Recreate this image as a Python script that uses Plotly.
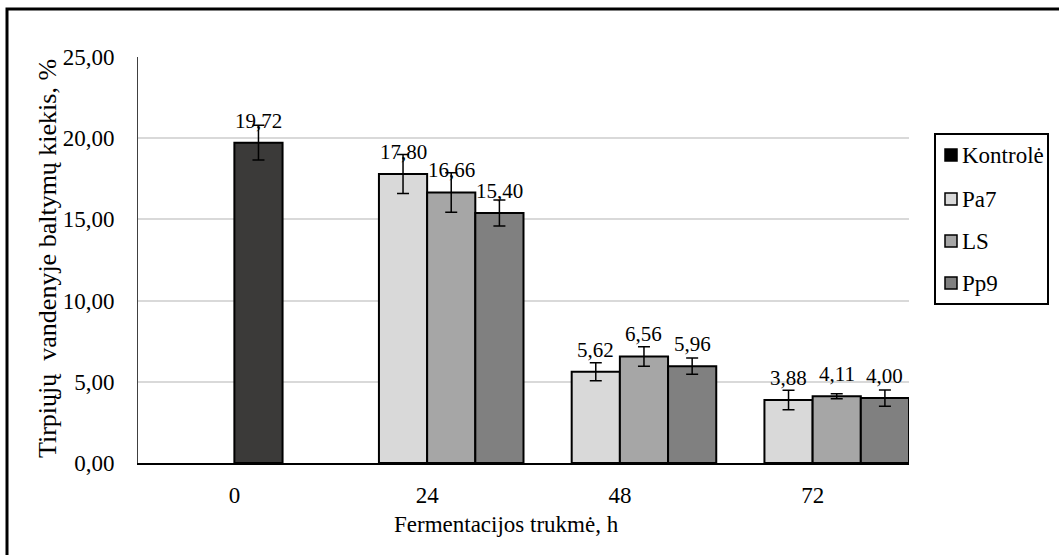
import plotly.graph_objects as go

# Fermentation time groups (h)
hours = ["0", "24", "48", "72"]

# Series names and fills
series_names = ["Kontrolė", "Pa7", "LS", "Pp9"]
series_colors = ["#3b3a39", "#d9d9d9", "#a6a6a6", "#808080"]

# Water-soluble protein content, %
kontrole = [19.72, None, None, None]
pa7 = [None, 17.80, 5.62, 3.88]
ls = [None, 16.66, 6.56, 4.11]
pp9 = [None, 15.40, 5.96, 4.00]

# Standard deviations
kontrole_err = [1.07, None, None, None]
pa7_err = [None, 1.20, 0.55, 0.60]
ls_err = [None, 1.22, 0.60, 0.15]
pp9_err = [None, 0.80, 0.50, 0.50]

# Position of each series inside a group (in category units)
bar_width = 0.25
bar_offsets = [0.0, -0.25, 0.0, 0.25]

values = [kontrole, pa7, ls, pp9]
errors = [kontrole_err, pa7_err, ls_err, pp9_err]

FONT = "Liberation Serif"

# plot area in pixels
W, H = 1059, 555
L, R, T, B = 138, 909, 57, 463


def px_x(p):
    return (p - L) / (R - L)


def px_y(p):
    return (B - p) / (B - T)


fig = go.Figure()

for name, color, vals, errs, off in zip(series_names, series_colors, values, errors, bar_offsets):
    fig.add_trace(go.Bar(
        x=hours,
        y=vals,
        name=name,
        width=bar_width,
        offset=off,
        marker=dict(color=color, line=dict(color="black", width=2)),
        error_y=dict(type="data", array=errs, visible=True,
                     color="black", thickness=1.5, width=6),
        showlegend=False,
    ))

annotations = []

# value labels above each bar
for vals, off in zip(values, bar_offsets):
    for i, v in enumerate(vals):
        if v is None:
            continue
        annotations.append(dict(
            x=i + off + bar_width / 2, y=v, xref="x", yref="y",
            text=f"{v:.2f}".replace(".", ","),
            showarrow=False, yanchor="middle", yshift=22,
            font=dict(family=FONT, size=21, color="black"),
        ))

# axis titles
annotations.append(dict(
    x=px_x(506), y=px_y(524), xref="paper", yref="paper",
    text="Fermentacijos trukmė, h", showarrow=False,
    xanchor="center", yanchor="middle",
    font=dict(family=FONT, size=23, color="black"),
))
annotations.append(dict(
    x=px_x(47), y=px_y(259), xref="paper", yref="paper",
    text="Tirpiųjų\u00a0 vandenyje baltymų kiekis, %", showarrow=False,
    textangle=-90, xanchor="center", yanchor="middle",
    font=dict(family=FONT, size=26, color="black"),
))

shapes = []

# outer chart frame
shapes.append(dict(
    type="rect", xref="paper", yref="paper",
    x0=px_x(7), x1=px_x(1075), y0=px_y(9), y1=px_y(575),
    line=dict(color="black", width=3), fillcolor="rgba(0,0,0,0)", layer="above",
))

# legend box and entries
leg_left, leg_right, leg_top, leg_bottom = 935, 1048, 134, 304
leg_rows = [155, 199, 241, 283]
shapes.append(dict(
    type="rect", xref="paper", yref="paper",
    x0=px_x(leg_left), x1=px_x(leg_right), y0=px_y(leg_top), y1=px_y(leg_bottom),
    line=dict(color="black", width=2), fillcolor="white", layer="above",
))
for name, color, yc in zip(series_names, series_colors, leg_rows):
    is_control = name == series_names[0]
    shapes.append(dict(
        type="rect", xref="paper", yref="paper",
        x0=px_x(945), x1=px_x(957), y0=px_y(yc - 6), y1=px_y(yc + 6),
        line=dict(color="black", width=1.5),
        fillcolor="black" if is_control else color, layer="above",
    ))
    annotations.append(dict(
        x=px_x(960), y=px_y(yc), xref="paper", yref="paper",
        text=name, showarrow=False, xanchor="left", yanchor="middle",
        font=dict(family=FONT, size=23, color="black"),
    ))

fig.update_layout(
    width=W, height=H,
    margin=dict(l=L, r=W - R, t=T, b=H - B, pad=0),
    paper_bgcolor="white", plot_bgcolor="white",
    barmode="overlay",
    separators=", ",
    font=dict(family=FONT, size=23, color="black"),
    annotations=annotations,
    shapes=shapes,
    showlegend=False,
)

fig.update_xaxes(
    type="category", range=[-0.5, 3.5],
    showline=True, linecolor="black", linewidth=2,
    showgrid=False, zeroline=False,
    ticks="", ticklabelstandoff=10,
    tickfont=dict(family=FONT, size=23, color="black"),
)

fig.update_yaxes(
    range=[0, 25], dtick=5, tickformat=".2f",
    showgrid=True, gridcolor="#d9d9d9", gridwidth=1.5,
    showline=True, linecolor="#404040", linewidth=1,
    zeroline=False, ticks="", ticklabelstandoff=18,
    tickfont=dict(family=FONT, size=23, color="black"),
)

fig.write_html("out.html")
